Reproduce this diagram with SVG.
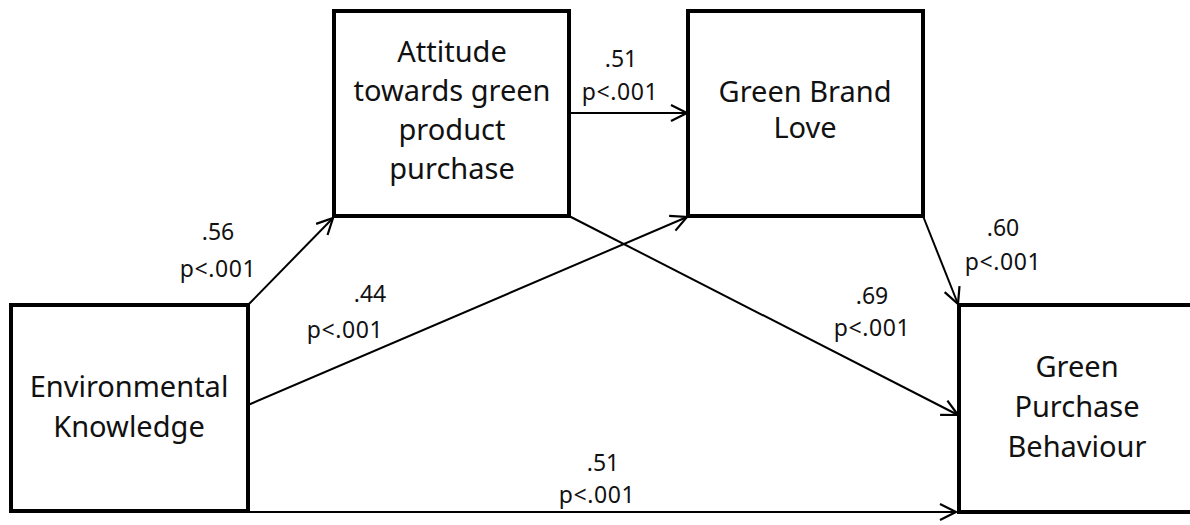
<svg xmlns="http://www.w3.org/2000/svg" width="1190" height="525" viewBox="0 0 1190 525">
<style>
.box{fill:#fff;stroke:#000;stroke-width:4}
.nt{font-family:"Noto Sans","Open Sans",sans-serif;font-size:29px;fill:#111;text-anchor:middle}
.lt{font-family:"Noto Sans","Open Sans",sans-serif;font-size:23px;fill:#111;text-anchor:middle}
.p{letter-spacing:0.6px}
.c{fill:none;stroke:#000;stroke-width:2}
</style>
<defs>
<marker id="arr" markerUnits="userSpaceOnUse" markerWidth="24" markerHeight="24" viewBox="0 0 24 24" refX="20" refY="12" orient="auto" overflow="visible">
<path d="M4,4 L20,12 L4,20" fill="none" stroke="#000" stroke-width="2.2"/>
</marker>
</defs>
<rect width="1190" height="525" fill="#fff"/>
<g id="node-ek">
<rect class="box" x="11" y="305" width="237" height="206"/>
<text class="nt" x="129" y="397">Environmental</text>
<text class="nt" x="129" y="437">Knowledge</text>
</g>
<g id="node-att">
<rect class="box" x="334" y="11" width="235" height="205"/>
<text class="nt" x="452" y="62">Attitude</text>
<text class="nt" x="452" y="101">towards green</text>
<text class="nt" x="452" y="140">product</text>
<text class="nt" x="452" y="179">purchase</text>
</g>
<g id="node-gbl">
<rect class="box" x="688" y="11" width="235" height="205"/>
<text class="nt" x="805" y="102">Green Brand</text>
<text class="nt" x="805" y="138">Love</text>
</g>
<g id="node-gpb">
<rect class="box" x="959" y="305" width="240" height="207"/>
<text class="nt" x="1077" y="377">Green</text>
<text class="nt" x="1077" y="417">Purchase</text>
<text class="nt" x="1077" y="457">Behaviour</text>
</g>
<g id="connectors">
<line class="c" x1="248" y1="305" x2="333" y2="218" stroke-width="3" marker-end="url(#arr)"/>
<line class="c" x1="569" y1="113" x2="687" y2="113" marker-end="url(#arr)"/>
<line class="c" x1="248" y1="405" x2="687" y2="217" marker-end="url(#arr)"/>
<line class="c" x1="569" y1="216" x2="958" y2="415" marker-end="url(#arr)"/>
<line class="c" x1="923" y1="216" x2="958" y2="304" marker-end="url(#arr)"/>
<line class="c" x1="248" y1="512" x2="956" y2="512" marker-end="url(#arr)"/>
<text class="lt" x="218" y="240">.56</text>
<text class="lt p" x="218" y="277">p&lt;.001</text>
<text class="lt" x="621" y="67">.51</text>
<text class="lt p" x="620" y="100">p&lt;.001</text>
<text class="lt" x="370" y="302">.44</text>
<text class="lt p" x="345" y="338">p&lt;.001</text>
<text class="lt" x="872" y="304">.69</text>
<text class="lt p" x="872" y="336">p&lt;.001</text>
<text class="lt" x="1003" y="236">.60</text>
<text class="lt p" x="1003" y="270">p&lt;.001</text>
<text class="lt" x="603" y="471">.51</text>
<text class="lt p" x="597" y="503">p&lt;.001</text>
</g>
</svg>
